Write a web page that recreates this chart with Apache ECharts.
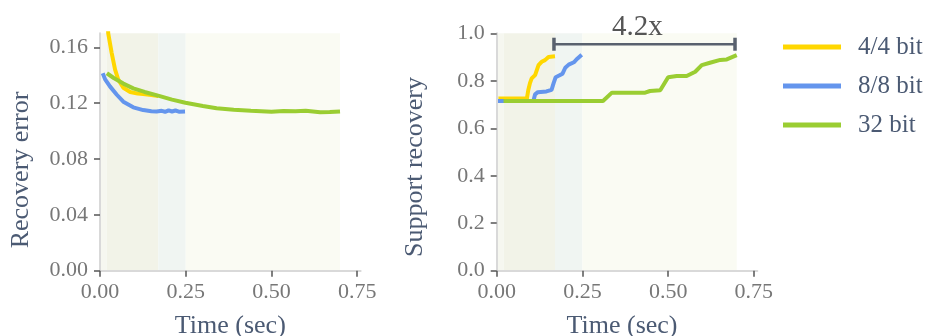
<!DOCTYPE html>
<html>
<head>
<meta charset="utf-8">
<script src="https://cdn.jsdelivr.net/npm/echarts@6/dist/echarts.min.js"></script>
<style>
html,body{margin:0;padding:0;background:#fff;}
#chart{width:940px;height:336px;}
</style>
</head>
<body>
<div id="chart"></div>
<script>
// ---------- data ----------
const seriesNames = ['4/4 bit', '8/8 bit', '32 bit'];

// Left: recovery error vs time
const errTime44 = [0.022, 0.024, 0.034, 0.044, 0.053, 0.068, 0.088, 0.110, 0.126, 0.150, 0.170];
const errVal44  = [0.180, 0.170, 0.156, 0.144, 0.137, 0.131, 0.128, 0.1268, 0.1266, 0.1258, 0.1250];

const errTime88 = [0.008, 0.015, 0.029, 0.049, 0.068, 0.097, 0.126, 0.150, 0.165, 0.180, 0.190, 0.200, 0.210, 0.220, 0.230, 0.248];
const errVal88  = [0.1414, 0.137, 0.132, 0.126, 0.121, 0.117, 0.115, 0.1142, 0.1140, 0.1145, 0.1138, 0.1148, 0.1140, 0.1147, 0.1139, 0.1140];

const errTime32 = [0.020, 0.040, 0.068, 0.097, 0.130, 0.172, 0.210, 0.249, 0.300, 0.340, 0.390, 0.440, 0.500, 0.535, 0.570, 0.600, 0.642, 0.670, 0.700];
const errVal32  = [0.1414, 0.138, 0.134, 0.1306, 0.128, 0.1252, 0.1225, 0.1203, 0.118, 0.1163, 0.1153, 0.1146, 0.1138, 0.1143, 0.1141, 0.1145, 0.1135, 0.1136, 0.1140];

// Right: support recovery vs time
const supTime44 = [0.005, 0.088, 0.092, 0.097, 0.102, 0.112, 0.117, 0.122, 0.131, 0.141, 0.151, 0.170];
const supVal44  = [0.725, 0.725, 0.760, 0.790, 0.810, 0.824, 0.845, 0.866, 0.880, 0.887, 0.900, 0.903];

const supTime88 = [0.000, 0.107, 0.112, 0.120, 0.145, 0.160, 0.166, 0.172, 0.182, 0.192, 0.200, 0.210, 0.225, 0.235, 0.248];
const supVal88  = [0.715, 0.715, 0.743, 0.752, 0.755, 0.762, 0.790, 0.815, 0.822, 0.830, 0.855, 0.868, 0.878, 0.893, 0.910];

const supTime32 = [0.020, 0.310, 0.336, 0.433, 0.447, 0.477, 0.500, 0.525, 0.554, 0.579, 0.598, 0.622, 0.652, 0.671, 0.700];
const supVal32  = [0.715, 0.715, 0.750, 0.750, 0.757, 0.760, 0.815, 0.820, 0.820, 0.838, 0.866, 0.876, 0.888, 0.890, 0.908];

// shaded time ranges (end times of each run)
const shadeBands = [[0.0, 0.02], [0.02, 0.17], [0.17, 0.25], [0.25, 0.70]];

// speed-up annotation
const bracketFrom = 0.167, bracketTo = 0.695, bracketY = 0.954;
const bracketLabel = '4.2x';

// tick labels
const timeTicks = [0, 0.25, 0.5, 0.75];
const errTicks = [0, 0.04, 0.08, 0.12, 0.16];
const supTicks = [0, 0.2, 0.4, 0.6, 0.8, 1.0];

// ---------- styling ----------
const FONT = 'Liberation Serif';
const colors = ['#ffd700', '#6495ed', '#9acd32'];
const bandColors = ['#f6f7f0', '#f2f3e8', '#f0f5f2', '#fafbf3'];
const titleColor = '#4b5a73';
const tickColor = '#777777';

function zip(t, v) { return t.map((x, i) => [x, v[i]]); }

function xAxisCfg(gridIndex, padRight) {
  return {
    type: 'value', gridIndex, min: 0, max: 0.76, z: 5,
    name: 'Time (sec)', nameLocation: 'middle', nameGap: 42,
    nameTextStyle: { fontFamily: FONT, fontSize: 26, color: titleColor, padding: [0, padRight, 0, 0] },
    axisLine: { show: true, lineStyle: { color: '#d9d9d9', width: 2 } },
    axisTick: { show: true, customValues: timeTicks, length: 6, lineStyle: { color: '#555', width: 1.5 } },
    axisLabel: { customValues: timeTicks, fontFamily: FONT, fontSize: 22, color: tickColor, margin: 11,
      formatter: v => v.toFixed(2) },
    splitLine: { show: false }
  };
}
function yAxisCfg(gridIndex, name, max, ticks, digits, padRight, gap) {
  return {
    type: 'value', gridIndex, min: 0, max, z: 5,
    name, nameLocation: 'middle', nameGap: gap, nameRotate: 90,
    nameTextStyle: { fontFamily: FONT, fontSize: 26, color: titleColor, padding: [0, padRight, 0, 0] },
    axisLine: { show: true, lineStyle: { color: '#d9d9d9', width: 2 } },
    axisTick: { show: true, customValues: ticks, length: 6, lineStyle: { color: '#555', width: 1.5 } },
    axisLabel: { customValues: ticks, fontFamily: FONT, fontSize: 22, color: tickColor, margin: 12,
      formatter: v => v.toFixed(digits) },
    splitLine: { show: false }
  };
}

function shadeSeries(idx) {
  return {
    type: 'line', xAxisIndex: idx, yAxisIndex: idx, data: [], z: 1, silent: true,
    markArea: {
      silent: true,
      data: shadeBands.map((b, i) => [
        { xAxis: b[0], itemStyle: { color: bandColors[i] } },
        { xAxis: b[1] }
      ])
    }
  };
}

function lineSeries(name, idx, data, color) {
  return {
    name, type: 'line', xAxisIndex: idx, yAxisIndex: idx, data,
    showSymbol: false, symbol: 'none', z: 3,
    lineStyle: { color, width: 4 }, itemStyle: { color },
    emphasis: { disabled: true }
  };
}

const chart = echarts.init(document.getElementById('chart'), null, { renderer: 'canvas' });
chart.setOption({
  animation: false,
  backgroundColor: '#ffffff',
  grid: [
    { left: 100, top: 33.3, width: 260.6, height: 237.4, containLabel: false, outerBoundsMode: 'none' },
    { left: 496.7, top: 33.3, width: 260.6, height: 237.4, containLabel: false, outerBoundsMode: 'none' }
  ],
  xAxis: [xAxisCfg(0, 0), xAxisCfg(1, 10)],
  yAxis: [
    yAxisCfg(0, 'Recovery error', 0.17, errTicks, 2, 36, 66),
    yAxisCfg(1, 'Support recovery', 1.0, supTicks, 1, 30, 69)
  ],
  legend: {
    data: seriesNames, orient: 'vertical', left: 778, top: 29,
    icon: 'rect', itemWidth: 58, itemHeight: 5, itemGap: 13,
    textStyle: { fontFamily: FONT, fontSize: 25, color: titleColor, lineHeight: 26, padding: [0, 0, 0, 12] }
  },
  series: [
    shadeSeries(0),
    shadeSeries(1),
    lineSeries(seriesNames[0], 0, zip(errTime44, errVal44), colors[0]),
    lineSeries(seriesNames[1], 0, zip(errTime88, errVal88), colors[1]),
    lineSeries(seriesNames[2], 0, zip(errTime32, errVal32), colors[2]),
    lineSeries(seriesNames[0], 1, zip(supTime44, supVal44), colors[0]),
    lineSeries(seriesNames[1], 1, zip(supTime88, supVal88), colors[1]),
    lineSeries(seriesNames[2], 1, zip(supTime32, supVal32), colors[2]),
    {
      type: 'custom', xAxisIndex: 1, yAxisIndex: 1, z: 10, clip: false, silent: true,
      data: [[bracketFrom, bracketTo, bracketY]],
      renderItem: function (params, api) {
        const p0 = api.coord([api.value(0), api.value(2)]);
        const p1 = api.coord([api.value(1), api.value(2)]);
        const stroke = '#59616e';
        return {
          type: 'group',
          children: [
            { type: 'line', shape: { x1: p0[0], y1: p0[1], x2: p1[0], y2: p1[1] }, style: { stroke, lineWidth: 2.5 } },
            { type: 'line', shape: { x1: p0[0], y1: p0[1] - 6.5, x2: p0[0], y2: p0[1] + 6.5 }, style: { stroke, lineWidth: 3.5 } },
            { type: 'line', shape: { x1: p1[0], y1: p1[1] - 6.5, x2: p1[0], y2: p1[1] + 6.5 }, style: { stroke, lineWidth: 3.5 } },
            { type: 'text', style: { text: bracketLabel, x: (p0[0] + p1[0]) / 2 - 7, y: p0[1] - 2,
                align: 'center', verticalAlign: 'bottom', font: '29px "Liberation Serif"', fill: '#555555' } }
          ]
        };
      }
    }
  ]
});
</script>
</body>
</html>
